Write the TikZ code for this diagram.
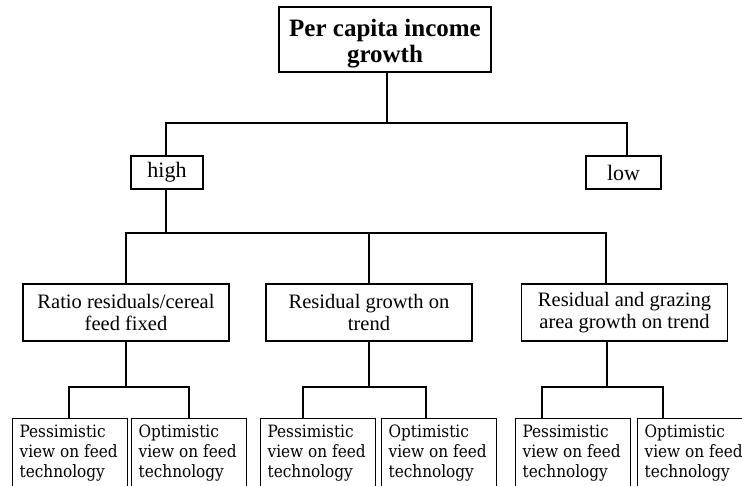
\documentclass[tikz,border=0pt]{standalone}
\usepackage{fontspec}
\setmainfont{Liberation Serif}
\newfontfamily\leaffont{DejaVu Serif Condensed}
\begin{document}
\begin{tikzpicture}[x=1pt,y=-1pt,line width=1.3pt,
  box/.style={draw,rectangle,inner sep=0pt,align=center},
  topbox/.style={box,minimum width=212pt,minimum height=65pt},
  toptext/.style={font=\bfseries\fontsize{25}{26}\selectfont,align=center,inner sep=0pt,yshift=-4pt},
  hlbox/.style={box,minimum height=33pt,font=\fontsize{22}{24}\selectfont},
  midbox/.style={box,minimum width=206pt,minimum height=57pt,font=\fontsize{20.5}{22.5}\selectfont},
  leafbox/.style={draw,rectangle,anchor=north west,inner xsep=7pt,inner ysep=6pt,font=\leaffont\fontsize{17}{20}\selectfont}]
\useasboundingbox (0,0) rectangle (742,486);
\clip (0,0) rectangle (742,486);
\node[topbox,label={[toptext]center:{Per capita income\\growth}}] (top) at (385,39.5) {};
\node[hlbox,minimum width=72pt] (high) at (167,172.5) {high};
\node[hlbox,minimum width=75pt] (low) at (623.5,172.5) {low};
\node[midbox] (A) at (126,312.5) {Ratio residuals/cereal\\feed fixed};
\node[midbox] (B) at (369,312.5) {Residual growth on\\trend};
\node[midbox] (C) at (624.5,312.5) {Residual and grazing\\area growth on trend};
\newcommand{\leaftext}[1]{\parbox[t][80pt][t]{101pt}{\raggedright #1}}
\node[leafbox] (L1) at (12,418) {\leaftext{Pessimistic\\view on feed\\technology}};
\node[leafbox] (L2) at (131,418) {\leaftext{Optimistic\\view on feed\\technology}};
\node[leafbox] (L3) at (260,418) {\leaftext{Pessimistic\\view on feed\\technology}};
\node[leafbox] (L4) at (381,418) {\leaftext{Optimistic\\view on feed\\technology}};
\node[leafbox] (L5) at (515,418) {\leaftext{Pessimistic\\view on feed\\technology}};
\node[leafbox] (L6) at (637,418) {\leaftext{Optimistic\\view on feed\\technology}};
% junctions
\coordinate (j1) at (387,123);
\coordinate (tops) at (387,72);
\coordinate (lown) at (627,156);
\coordinate (j2) at (166,233);
\coordinate (highn) at (166,156);
\coordinate (highs) at (166,189);
\coordinate (cCn) at (606,284);
\coordinate (cCs) at (607,341);
\coordinate (ja) at (126,387);
\coordinate (jb) at (369,387);
\coordinate (jc) at (607,387);
\coordinate (l1t) at (69,418);
\coordinate (l2t) at (189,418);
\coordinate (l3t) at (303,418);
\coordinate (l4t) at (426,418);
\coordinate (l5t) at (542,418);
\coordinate (l6t) at (663,418);
% connectors
\draw (tops) -- (j1);
\draw (highn) |- (j1) -| (lown);
\draw (highs) -- (j2);
\draw (A.north) |- (j2) -| (cCn);
\draw (B.north) -- (B.north |- j2);
\draw (A.south) -- (ja);
\draw (l1t) |- (ja) -| (l2t);
\draw (B.south) -- (jb);
\draw (l3t) |- (jb) -| (l4t);
\draw (cCs) -- (jc);
\draw (l5t) |- (jc) -| (l6t);
\end{tikzpicture}
\end{document}
